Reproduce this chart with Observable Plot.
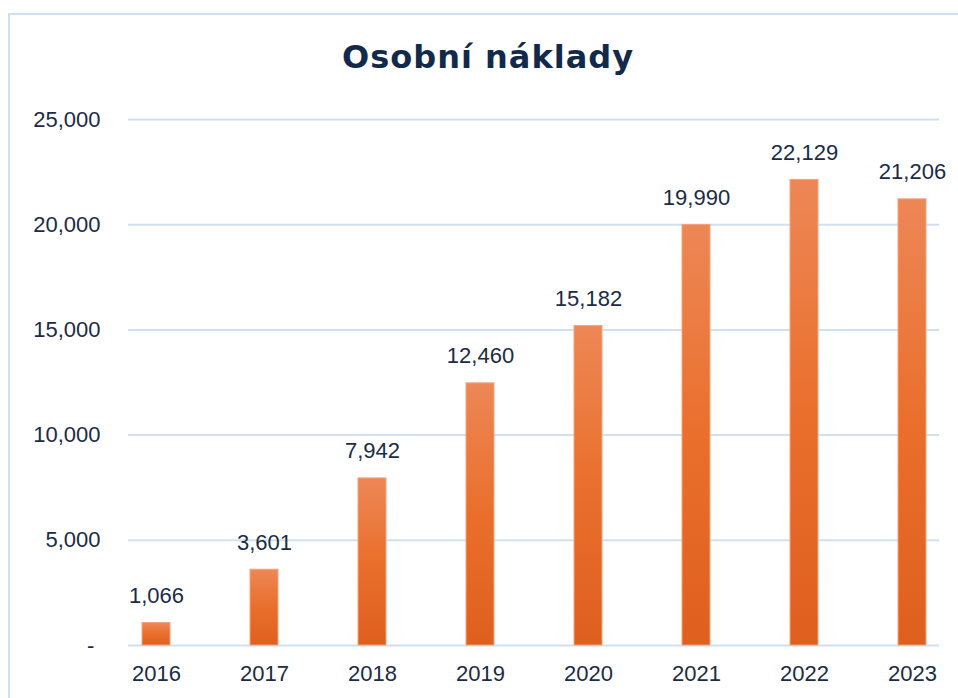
<!DOCTYPE html>
<html>
<head>
<meta charset="utf-8">
<script src="https://cdn.jsdelivr.net/npm/d3@7"></script>
<script src="https://cdn.jsdelivr.net/npm/@observablehq/plot@0.6"></script>
<style>
  html, body { margin: 0; padding: 0; background: #fff; overflow: hidden; }
  #card { position: absolute; left: 8px; top: 13px; width: 990px; height: 720px; border: 2px solid #cfe0f3; box-sizing: border-box; }
  #title { position: absolute; left: 8px; width: 960px; top: 38px; line-height: 37px; text-align: center;
           font: 700 32px "DejaVu Sans", sans-serif; letter-spacing: 1px; color: #13294a; }
  #chart { position: absolute; left: 0; top: 0; }
</style>
</head>
<body>
<div id="card"></div>
<div id="chart"></div>
<div id="title">Osobní náklady</div>
<script>
const years = ["2016", "2017", "2018", "2019", "2020", "2021", "2022", "2023"];
const values = [1066, 3601, 7942, 12460, 15182, 19990, 22129, 21206];
const yTicks = [0, 5000, 10000, 15000, 20000, 25000];

const data = years.map((y, i) => ({year: y, value: values[i]}));
const fmt = d3.format(",");
const ink = "#1b2b45";

const plot = Plot.plot({
  width: 958,
  height: 698,
  marginLeft: 128,
  marginRight: 19,
  marginTop: 119,
  marginBottom: 53,
  style: {fontFamily: "'Liberation Sans', Arial, sans-serif", fontSize: "22px", color: ink, background: "transparent"},
  x: {domain: years, paddingInner: 0.744, paddingOuter: 0.124, label: null},
  y: {domain: [0, 25000], label: null},
  marks: [
    Plot.gridY(yTicks, {stroke: "#cfe0f3", strokeOpacity: 1, strokeWidth: 2}),
    Plot.barY(data, {x: "year", y: "value", fill: "url(#barGrad)", stroke: "#f3a47e", strokeWidth: 1}),
    Plot.text(data, {x: "year", y: "value", text: d => fmt(d.value), dy: -20, lineAnchor: "bottom", fontSize: 22, fill: ink}),
    Plot.axisY(yTicks, {tickSize: 0, tickPadding: 28, fontSize: 22, fill: ink, label: null,
      tickFormat: d => d === 0 ? "-\u00a0" : fmt(d)}),
    Plot.axisX({tickSize: 0, tickPadding: 20, fontSize: 22, fill: ink, label: null})
  ]
});

const ns = "http://www.w3.org/2000/svg";
const defs = document.createElementNS(ns, "defs");
const grad = document.createElementNS(ns, "linearGradient");
grad.setAttribute("id", "barGrad");
grad.setAttribute("x1", "0"); grad.setAttribute("y1", "0");
grad.setAttribute("x2", "0"); grad.setAttribute("y2", "1");
[["0%", "#ed8756"], ["50%", "#ea6f2c"], ["100%", "#df5f1e"]].forEach(([o, c]) => {
  const s = document.createElementNS(ns, "stop");
  s.setAttribute("offset", o); s.setAttribute("stop-color", c);
  grad.appendChild(s);
});
defs.appendChild(grad);
plot.insertBefore(defs, plot.firstChild);
document.getElementById("chart").appendChild(plot);
</script>
</body>
</html>
